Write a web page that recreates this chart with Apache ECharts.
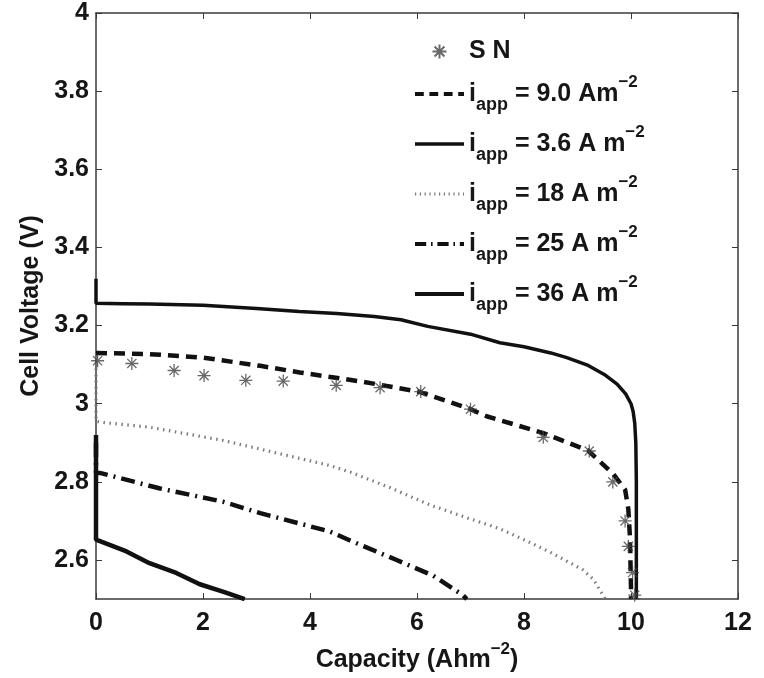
<!DOCTYPE html>
<html>
<head>
<meta charset="utf-8">
<script src="https://cdn.jsdelivr.net/npm/echarts@6/dist/echarts.min.js"></script>
<style>
  html, body { margin: 0; padding: 0; background: #ffffff; }
  #chart { width: 764px; height: 678px; }
</style>
</head>
<body>
<div id="chart"></div>
<script>
// Discharge curves: capacity (Ah m^-2) vs cell voltage (V)
const snCapacity = [0.03, 0.67, 1.46, 2.02, 2.8, 3.5, 4.49, 5.31, 6.07, 7.0, 8.36, 9.22, 9.66, 9.89, 9.95, 10.03, 10.07];
const snVoltage  = [3.11, 3.103, 3.085, 3.072, 3.06, 3.058, 3.047, 3.041, 3.031, 2.986, 2.914, 2.879, 2.80, 2.70, 2.635, 2.568, 2.51];

const i9Capacity = [0, 1, 2, 3.07, 3.81, 5, 6.06, 7, 7.3, 8.36, 9.2, 9.67, 9.89, 9.95, 9.98, 10.0, 10.0];
const i9Voltage  = [3.13, 3.127, 3.118, 3.097, 3.08, 3.056, 3.03, 2.986, 2.968, 2.925, 2.88, 2.82, 2.78, 2.73, 2.66, 2.53, 2.5];

const i36lowCapacity = [0, 0, 0.5, 1, 2, 3, 3.8, 4.5, 5.2, 5.7, 6.2, 7, 7.55, 8, 8.5, 8.8, 9.2, 9.5, 9.74, 9.9, 10.0, 10.04, 10.07, 10.09, 10.1, 10.1];
const i36lowVoltage  = [3.32, 3.257, 3.256, 3.255, 3.252, 3.244, 3.236, 3.231, 3.223, 3.215, 3.198, 3.178, 3.156, 3.146, 3.13, 3.118, 3.098, 3.075, 3.05, 3.025, 3.0, 2.98, 2.95, 2.9, 2.8, 2.5];

const i18Capacity = [0, 0, 0.14, 1, 2.38, 3.5, 4.37, 4.75, 5.5, 6.24, 7, 7.55, 8.11, 8.49, 9.1, 9.3, 9.52];
const i18Voltage  = [3.12, 2.955, 2.952, 2.94, 2.906, 2.87, 2.842, 2.825, 2.785, 2.741, 2.705, 2.68, 2.645, 2.62, 2.575, 2.55, 2.5];

const i25Capacity = [0, 0, 0.07, 1.2, 2.38, 3.07, 4.37, 4.75, 5.62, 6.3, 6.86, 6.93];
const i25Voltage  = [2.9, 2.823, 2.823, 2.783, 2.749, 2.72, 2.673, 2.65, 2.60, 2.56, 2.51, 2.5];

const i36Capacity = [0, 0, 0.57, 1.0, 1.5, 1.94, 2.4, 2.78];
const i36Voltage  = [2.92, 2.652, 2.622, 2.592, 2.567, 2.538, 2.518, 2.5];

const xTicks = [0, 2, 4, 6, 8, 10, 12];
const yTicks = [2.6, 2.8, 3.0, 3.2, 3.4, 3.6, 3.8, 4.0];

const legendLabels = {
  'SN':   '{s|S N}',
  'i9':   '{m|i}{b|app}{m| = 9.0 Am}{p|\u22122}',
  'i3.6': '{m|i}{b|app}{m| = 3.6 A m}{p|\u22122}',
  'i18':  '{m|i}{b|app}{m| = 18 A m}{p|\u22122}',
  'i25':  '{m|i}{b|app}{m| = 25 A m}{p|\u22122}',
  'i36':  '{m|i}{b|app}{m| = 36 A m}{p|\u22122}'
};

const pairs = (xs, ys) => xs.map((x, k) => [x, ys[k]]);

const FONT = '"Liberation Sans", Arial, Helvetica, sans-serif';
const INK = '#161616';
const AXIS = '#3a3a3a';

const asterisk = 'path://M0,-1L0,1M-1,0L1,0M-0.707,-0.707L0.707,0.707M-0.707,0.707L0.707,-0.707';

const styles = {
  i9:   { color: '#111111', width: 4.5, type: [11, 7] },
  i3_6: { color: '#111111', width: 3.5, type: 'solid' },
  i18:  { color: '#7a7a7a', width: 3.2, type: [1.5, 4.5] },
  i25:  { color: '#111111', width: 4.5, type: [14, 6, 2, 6] },
  i36:  { color: '#111111', width: 4.5, type: 'solid' }
};

const lineSeries = (name, xs, ys, style) => ({
  name: name,
  type: 'line',
  data: pairs(xs, ys),
  showSymbol: false,
  symbol: 'none',
  smooth: false,
  clip: true,
  lineStyle: style,
  itemStyle: { color: style.color },
  emphasis: { disabled: true }
});

// legend entries for the curves show only their line sample
const lineEntry = (name, style) => ({
  name: name,
  itemStyle: { opacity: 0 },
  lineStyle: { color: style.color, width: Math.min(style.width, 4), type: style.type === 'solid' ? 'solid' : style.type.map(v => v * 0.8) }
});

const chart = echarts.init(document.getElementById('chart'), null, { renderer: 'canvas' });

chart.setOption({
  animation: false,
  backgroundColor: '#ffffff',
  grid: { left: 96, top: 13, right: 26, bottom: 75, containLabel: false },
  legend: {
    orient: 'vertical',
    left: 413,
    top: 39,
    padding: 0,
    itemWidth: 49,
    itemHeight: 14,
    itemGap: 10,
    selectedMode: false,
    data: [
      { name: 'SN' },
      lineEntry('i9', styles.i9),
      lineEntry('i3.6', styles.i3_6),
      lineEntry('i18', styles.i18),
      lineEntry('i25', styles.i25),
      lineEntry('i36', styles.i36)
    ],
    formatter: name => legendLabels[name],
    textStyle: {
      color: INK,
      fontFamily: FONT,
      rich: {
        s: { fontSize: 25, fontWeight: 'bold', fontFamily: FONT, color: INK, lineHeight: 22 },
        m: { fontSize: 25, fontWeight: 'bold', fontFamily: FONT, color: INK, lineHeight: 40, verticalAlign: 'middle' },
        b: { fontSize: 18, fontWeight: 'bold', fontFamily: FONT, color: INK, lineHeight: 12, verticalAlign: 'bottom' },
        p: { fontSize: 17, fontWeight: 'bold', fontFamily: FONT, color: INK, lineHeight: 16, verticalAlign: 'top' }
      }
    }
  },
  xAxis: [
    {
      type: 'value',
      min: 0, max: 12, interval: 2,
      name: '{a|Capacity (Ahm}{s|\u22122}{a|)}',
      nameLocation: 'middle',
      nameGap: 41,
      nameTextStyle: {
        rich: {
          a: { fontSize: 25, fontWeight: 'bold', fontFamily: FONT, color: INK, lineHeight: 32, verticalAlign: 'bottom' },
          s: { fontSize: 17, fontWeight: 'bold', fontFamily: FONT, color: INK, lineHeight: 16, verticalAlign: 'top' }
        }
      },
      axisLine: { show: true, onZero: false, lineStyle: { color: AXIS, width: 1.5 } },
      axisTick: { show: true, inside: true, length: 6, lineStyle: { color: AXIS, width: 1 } },
      axisLabel: { margin: 12, fontSize: 25, fontWeight: 'bold', fontFamily: FONT, color: INK,
                   customValues: xTicks },
      splitLine: { show: false }
    },
    {
      type: 'value', position: 'top',
      min: 0, max: 12, interval: 2,
      axisLine: { show: true, onZero: false, lineStyle: { color: AXIS, width: 1.5 } },
      axisTick: { show: true, inside: true, length: 6, lineStyle: { color: AXIS, width: 1 } },
      axisLabel: { show: false },
      splitLine: { show: false }
    }
  ],
  yAxis: [
    {
      type: 'value',
      min: 2.5, max: 4,
      name: 'Cell Voltage (V)',
      nameLocation: 'middle',
      nameGap: 45,
      nameTextStyle: { fontSize: 25, fontWeight: 'bold', fontFamily: FONT, color: INK },
      axisLine: { show: true, onZero: false, lineStyle: { color: AXIS, width: 1.5 } },
      axisTick: { show: true, inside: true, length: 6, lineStyle: { color: AXIS, width: 1 },
                  customValues: yTicks },
      axisLabel: { margin: 7, fontSize: 25, fontWeight: 'bold', fontFamily: FONT, color: INK,
                   customValues: yTicks, formatter: v => String(+v.toFixed(1)) },
      splitLine: { show: false }
    },
    {
      type: 'value', position: 'right',
      min: 2.5, max: 4,
      axisLine: { show: true, onZero: false, lineStyle: { color: AXIS, width: 1.5 } },
      axisTick: { show: true, inside: true, length: 6, lineStyle: { color: AXIS, width: 1 },
                  customValues: yTicks },
      axisLabel: { show: false },
      splitLine: { show: false }
    }
  ],
  series: [
    {
      name: 'SN',
      type: 'scatter',
      data: pairs(snCapacity, snVoltage),
      symbol: asterisk,
      symbolSize: 13,
      itemStyle: { color: 'rgba(0,0,0,0)', borderColor: '#444444', borderWidth: 1.3 },
      emphasis: { disabled: true },
      z: 5
    },
    lineSeries('i9', i9Capacity, i9Voltage, styles.i9),
    lineSeries('i3.6', i36lowCapacity, i36lowVoltage, styles.i3_6),
    lineSeries('i18', i18Capacity, i18Voltage, styles.i18),
    lineSeries('i25', i25Capacity, i25Voltage, styles.i25),
    lineSeries('i36', i36Capacity, i36Voltage, styles.i36)
  ]
});
</script>
</body>
</html>
